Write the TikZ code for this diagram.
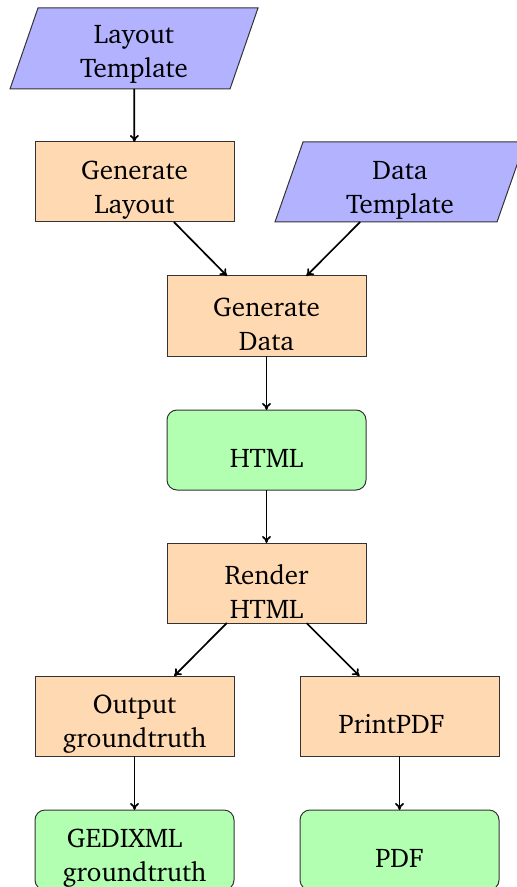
\documentclass[tikz,border=0pt]{standalone}
\usepackage[T1]{fontenc}
\usepackage{charter}
\usetikzlibrary{arrows.meta}
\definecolor{procfill}{RGB}{255,217,178}
\definecolor{infill}{RGB}{178,178,255}
\definecolor{outfill}{RGB}{178,255,178}
\begin{document}
\begin{tikzpicture}[x=0.5pt,y=-0.5pt,
  boxbase/.style={minimum width=99.5pt, minimum height=40pt, inner sep=0pt,
                  outer sep=0pt, draw=black!80, line width=0.5pt},
  proc/.style={boxbase, fill=procfill},
  outp/.style={boxbase, fill=outfill, rounded corners=5pt},
  inp/.style={minimum width=124pt, minimum height=40.5pt, inner sep=0pt, outer sep=0pt},
  para/.style={fill=infill, draw=black!80, line width=0.5pt},
  lbl/.style={align=center, font=\fontsize{13.5}{17}\selectfont, inner sep=0pt},
  flow/.style={-{To[length=3.5pt,width=4.5pt]}, line width=0.85pt}]
\useasboundingbox (0,0) rectangle (517,887);

% input templates (parallelograms drawn over invisible frames)
\node[inp] (lt) at (134,48.5) {};
\node[inp, minimum width=125pt, minimum height=40pt] (dt) at (400,182) {};
\draw[para] ([xshift=14pt]lt.north west) -- (lt.north east)
  -- ([xshift=-14pt]lt.south east) -- (lt.south west) -- cycle;
\draw[para] ([xshift=14pt]dt.north west) -- (dt.north east)
  -- ([xshift=-14pt]dt.south east) -- (dt.south west) -- cycle;

% processing steps
\node[proc] (gl) at (134.5,182) {};
\node[proc] (gd) at (266.5,316) {};
\node[proc] (rh) at (266.5,583) {};
\node[proc] (og) at (134.5,716) {};
\node[proc] (pp) at (399.5,716) {};

% outputs
\node[outp] (html) at (266.5,450) {};
\node[outp] (gx) at (134.5,850) {};
\node[outp] (pdf) at (399.5,850) {};

% labels
\node[lbl] at ([yshift=-3pt]lt.center) {Layout\\Template};
\node[lbl] at ([yshift=-4pt]dt.center) {Data\\Template};
\node[lbl] at ([yshift=-4pt]gl.center) {Generate\\Layout};
\node[lbl] at ([yshift=-4pt]gd.center) {Generate\\Data};
\node[lbl] at ([yshift=-4pt]html.center) {HTML};
\node[lbl] at ([yshift=-4pt]rh.center) {Render\\HTML};
\node[lbl] at ([yshift=-4pt]og.center) {Output\\groundtruth};
\node[lbl] at ([shift={(-4pt,-4pt)}]pp.center) {PrintPDF};
\node[lbl] at ([yshift=-4pt]gx.center) {GEDIXML\kern10pt\\groundtruth};
\node[lbl] at ([yshift=-4pt]pdf.center) {PDF};

% flow
\draw[flow] (lt) -- (gl);
\draw[flow] (gl) -- (gd);
\draw[flow] (dt) -- (gd);
\draw[flow] (gd) -- (html);
\draw[flow] (html) -- (rh);
\draw[flow] (rh) -- (og);
\draw[flow] (rh) -- (pp);
\draw[flow] (og) -- (gx);
\draw[flow] (pp) -- (pdf);
\end{tikzpicture}
\end{document}
